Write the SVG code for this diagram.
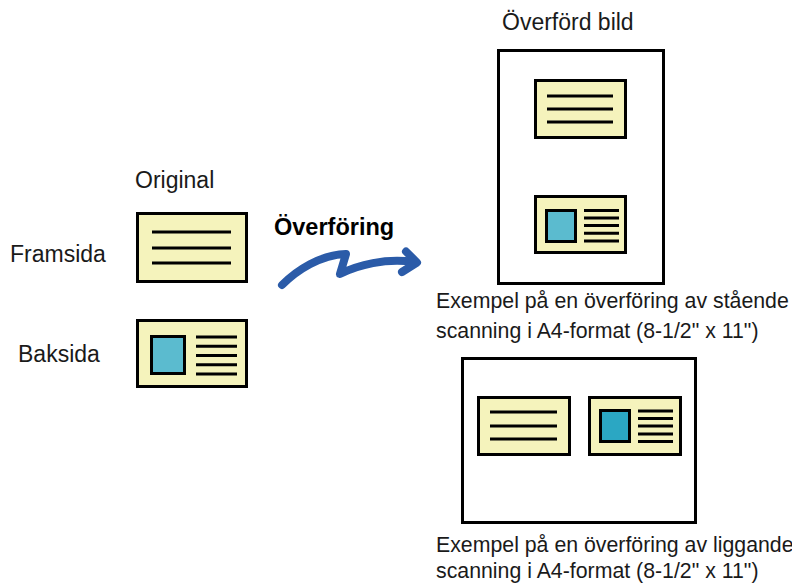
<svg xmlns="http://www.w3.org/2000/svg" width="792" height="584" viewBox="0 0 792 584">
<style>
text{font-family:"Liberation Sans",Arial,sans-serif;fill:#1a1a1a}
.lbl{font-size:23px}
.cap{font-size:21.3px}
.card{fill:#f5f3bc;stroke:#000;stroke-width:3}
.page{fill:#fff;stroke:#000;stroke-width:3}
.ln{stroke:#000;stroke-width:3;fill:none}
.ph{fill:#5bbbcf;stroke:#000;stroke-width:3}
.ph2{fill:#2ba7c3;stroke:#000;stroke-width:3}
.arr{fill:none;stroke:#2b5ba8;stroke-width:8;stroke-linecap:round;stroke-linejoin:round}
</style>
<rect width="792" height="584" fill="#fff"/>
<g id="labels">
<text class="lbl" x="135" y="188">Original</text>
<text class="lbl" x="10" y="262">Framsida</text>
<text class="lbl" x="18" y="362">Baksida</text>
<text x="274" y="235" style="font-size:23.5px;font-weight:bold;fill:#000">Överföring</text>
<text class="lbl" x="502" y="30">Överförd bild</text>
</g>
<g id="front">
<rect class="card" x="137.5" y="213.5" width="109" height="68"/>
<path class="ln" d="M152,232H231M152,248H231M152,263H231"/>
</g>
<g id="back">
<rect class="card" x="137.5" y="320.5" width="109" height="66"/>
<rect class="ph" x="151.5" y="336.5" width="33" height="37"/>
<path class="ln" d="M196,337H237M196,346.2H237M196,355.5H237M196,364.7H237M196,374H237"/>
</g>
<g id="connectors">
<path class="arr" d="M282,285 C297,270 320,255 346,254 L340,274 C358,265 385,258 414,262"/>
<path class="arr" d="M406,251.5 L417,262.5 L402,272"/>
</g>
<g id="portrait">
<rect class="page" x="498.5" y="50.5" width="165" height="233"/>
<rect class="card" x="535.5" y="80.5" width="90" height="57"/>
<path class="ln" d="M547,96H613M547,109H613M547,122H613"/>
<rect class="card" x="535.5" y="196.5" width="90" height="56"/>
<rect class="ph" x="546.5" y="210.5" width="29" height="31"/>
<path class="ln" d="M584,210.5H619M584,218H619M584,225.5H619M584,233.3H619M584,241H619"/>
</g>
<g id="caption1">
<text class="cap" x="436" y="308">Exempel på en överföring av stående</text>
<text class="cap" x="436" y="338">scanning i A4-format (8-1/2" x 11")</text>
</g>
<g id="landscape">
<rect class="page" x="462.5" y="358.5" width="233" height="164"/>
<rect class="card" x="478.5" y="397.5" width="91" height="57"/>
<path class="ln" d="M490,412H557M490,426H557M490,439H557"/>
<rect class="card" x="589.5" y="397.5" width="91" height="57"/>
<rect class="ph2" x="600.5" y="410.5" width="29" height="31"/>
<path class="ln" d="M638,411H673M638,418.5H673M638,426H673M638,434H673M638,441.5H673"/>
</g>
<g id="caption2">
<text class="cap" x="436" y="552">Exempel på en överföring av liggande</text>
<text class="cap" x="436" y="578">scanning i A4-format (8-1/2" x 11")</text>
</g>
</svg>
